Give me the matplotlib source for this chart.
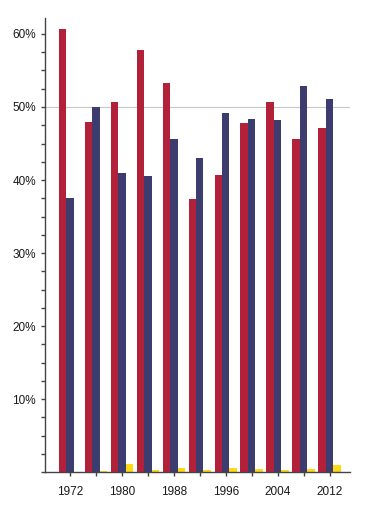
import matplotlib.pyplot as plt
import numpy as np

# Popular vote share by election year
years = [1972, 1976, 1980, 1984, 1988, 1992, 1996, 2000, 2004, 2008, 2012]
republican = [60.7, 47.9, 50.7, 57.8, 53.3, 37.4, 40.7, 47.8, 50.7, 45.6, 47.1]
democratic = [37.5, 50.0, 41.0, 40.5, 45.6, 43.0, 49.2, 48.4, 48.2, 52.9, 51.1]
libertarian = [0.0, 0.2, 1.1, 0.25, 0.5, 0.3, 0.5, 0.4, 0.3, 0.4, 1.0]
tick_labels = ['1972', '', '1980', '', '1988', '', '1996', '', '2004', '', '2012']

plt.rcParams['font.family'] = ['Liberation Sans', 'DejaVu Sans']

fig = plt.figure(figsize=(3.66, 5.12), dpi=100)
ax = fig.add_axes([0.123, 0.078, 0.834, 0.887])

x = np.array(years, dtype=float)
w = 1.15
ax.bar(x - w, republican, width=w, color='#B3203A', zorder=2)
ax.bar(x, democratic, width=w, color='#3C3D6E', zorder=2)
ax.bar(x + w, libertarian, width=w, color='#FFD816', zorder=2)

ax.axhline(50, color='#c8c8c8', lw=0.8, zorder=1)

ax.set_xlim(1968.15, 2015.2)
ax.set_ylim(0, 62.2)
ax.set_xticks(years)
ax.set_xticklabels(tick_labels)
ax.set_yticks(np.arange(0, 62, 2.5))
ax.set_yticklabels(['' if v % 10 or v == 0 else f'{int(v)}%' for v in np.arange(0, 62, 2.5)])

for s in ['top', 'right']:
    ax.spines[s].set_visible(False)
for s in ['left', 'bottom']:
    ax.spines[s].set_color('#444444')
    ax.spines[s].set_linewidth(1.0)
ax.tick_params(axis='both', direction='out', length=3, width=1, color='#444444',
               labelsize=8.5, labelcolor='#1a1a1a')
ax.tick_params(axis='x', pad=7)

plt.savefig('out.png', dpi=100)
